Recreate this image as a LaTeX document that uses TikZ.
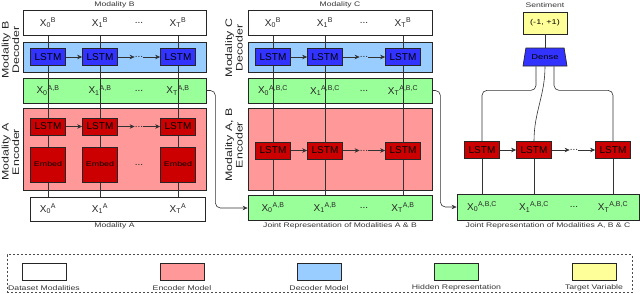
\documentclass[tikz,border=0pt]{standalone}
\usepackage{fontspec}
\setmainfont{Liberation Sans}
\newfontfamily\widefont[FakeStretch=1.3]{Liberation Sans}
\usetikzlibrary{calc}
\usetikzlibrary{positioning}
\usetikzlibrary{arrows.meta}
\usetikzlibrary{shapes.geometric}

\definecolor{encred}{HTML}{FF9999}
\definecolor{decblue}{HTML}{99CCFF}
\definecolor{hidgreen}{HTML}{99FF99}
\definecolor{tgtyellow}{HTML}{FFFF99}
\definecolor{lstmred}{HTML}{CC0000}
\definecolor{lstmblue}{HTML}{3333FF}

\newcommand{\xv}[2]{X\textsubscript{#1}\textsuperscript{#2}}

\tikzset{
    band/.style={draw=black!85, line width=0.8pt, minimum width=183pt, minimum height=25pt, inner sep=0pt},
    cell/.style={draw=black!85, line width=0.7pt, minimum width=35pt, minimum height=17pt, inner sep=0pt, font=\fontsize{10}{12}\selectfont},
    embcell/.style={cell, fill=lstmred, minimum height=35pt, font=\widefont\fontsize{6.8}{8}\selectfont},
    lab/.style={inner sep=0pt, text=black!85, font=\fontsize{10}{12}\selectfont},
    caption/.style={inner sep=0pt, text=black!80, font=\widefont\fontsize{6.6}{8}\selectfont},
    side/.style={inner sep=0pt, text=black!85, align=center, rotate=90, font=\widefont\fontsize{9.5}{10.5}\selectfont},
    link/.style={draw=black!80, line width=0.6pt},
    arr/.style={link, -{Stealth[length=5pt,width=4.5pt]}},
    key/.style={draw=black!85, line width=0.8pt, minimum width=44pt, minimum height=17pt, inner sep=0pt}
}

\begin{document}
\begin{tikzpicture}[x=1pt, y=-1pt]
    \useasboundingbox (0,0) rectangle (640,293);

    % Columns
    \coordinate (a0) at (48,0);
    \coordinate (a1) at (100,0);
    \coordinate (ad) at (139,0);
    \coordinate (a2) at (178,0);
    \coordinate (b0) at (273,0);
    \coordinate (b1) at (325,0);
    \coordinate (bd) at (364,0);
    \coordinate (b2) at (403,0);
    \coordinate (c0) at (482,0);
    \coordinate (c1) at (534,0);
    \coordinate (cd) at (574,0);
    \coordinate (c2) at (613,0);

    % Left stack: modality B decoder over modality A encoder
    \node[caption] (capB) at (114.5,5) {Modality B};
    \node[band] (topB) at (114.5,23) {};
    \node[band, fill=decblue, minimum height=30pt] (decB) at (114.5,57) {};
    \node[band, fill=hidgreen] (hidAB) at (114.5,90.5) {};
    \node[band, fill=encred, minimum height=82pt] (encA) at (114.5,149) {};
    \node[band, minimum width=175pt, minimum height=24pt] (botA) at (117.5,209) {};
    \node[caption] (capA) at (114.5,226) {Modality A};
    \node[side] (sideB) at (10.5,50) {Modality B\\Decoder};
    \node[side] (sideA) at (10.5,152) {Modality A\\Encoder};

    \draw[link] (topB.south -| a0) -- (botA.north -| a0);
    \draw[link] (topB.south -| a1) -- (botA.north -| a1);
    \draw[link] (topB.south -| a2) -- (botA.north -| a2);

    \node[lab] (xB0) at (a0 |- topB) {\xv{0}{B}};
    \node[lab] (xB1) at (a1 |- topB) {\xv{1}{B}};
    \node[lab] (xBd) at (ad |- topB) {...};
    \node[lab] (xBT) at (a2 |- topB) {\xv{T}{B}};

    \node[cell, fill=lstmblue] (lstmB0) at (a0 |- decB) {LSTM};
    \node[cell, fill=lstmblue] (lstmB1) at (a1 |- decB) {LSTM};
    \node[lab] (lstmBd) at (ad |- decB) {...};
    \node[cell, fill=lstmblue] (lstmB2) at (a2 |- decB) {LSTM};
    \draw[arr] (lstmB0) -- (lstmB1);
    \draw[arr] (lstmB1) -- (lstmBd);
    \draw[arr] (lstmBd) -- (lstmB2);

    \node[lab] (hAB0) at (a0 |- hidAB) {\xv{0}{A,B}};
    \node[lab] (hAB1) at (a1 |- hidAB) {\xv{1}{A,B}};
    \node[lab] (hABd) at (ad |- hidAB) {...};
    \node[lab] (hABT) at (a2 |- hidAB) {\xv{T}{A,B}};

    \node[cell, fill=lstmred] (lstmA0) at (a0 |- 0,126.5) {LSTM};
    \node[cell, fill=lstmred] (lstmA1) at (a1 |- 0,126.5) {LSTM};
    \node[lab] (lstmAd) at (ad |- 0,126.5) {...};
    \node[cell, fill=lstmred] (lstmA2) at (a2 |- 0,126.5) {LSTM};
    \draw[arr] (lstmA0) -- (lstmA1);
    \draw[arr] (lstmA1) -- (lstmAd);
    \draw[arr] (lstmAd) -- (lstmA2);

    \node[embcell] (embA0) at (a0 |- 0,164.5) {Embed};
    \node[embcell] (embA1) at (a1 |- 0,164.5) {Embed};
    \node[lab] (embAd) at (ad |- 0,164.5) {...};
    \node[embcell] (embA2) at (a2 |- 0,164.5) {Embed};

    \node[lab] (xA0) at (a0 |- botA) {\xv{0}{A}};
    \node[lab] (xA1) at (a1 |- botA) {\xv{1}{A}};
    \node[lab] (xAT) at (a2 |- botA) {\xv{T}{A}};

    % Middle stack: modality C decoder over joint A, B encoder
    \node[caption] (capC) at (340,5) {Modality C};
    \node[band, minimum width=184pt] (topC) at (340,23) {};
    \node[band, fill=decblue, minimum width=184pt, minimum height=30pt] (decC) at (340,57) {};
    \node[band, fill=hidgreen, minimum width=184pt] (hidABC) at (340,90.5) {};
    \node[band, fill=encred, minimum width=184pt, minimum height=82pt] (encAB) at (340,149) {};
    \node[band, fill=hidgreen, minimum width=184pt] (jAB) at (340,208) {};
    \node[caption] (capAB) at (340,226) {Joint Representation of Modalities A \& B};
    \node[side] (sideC) at (234,48) {Modality C\\Decoder};
    \node[side] (sideAB) at (234,145) {Modality A, B\\Encoder};

    \draw[link] (topC.south -| b0) -- (jAB.north -| b0);
    \draw[link] (topC.south -| b1) -- (jAB.north -| b1);
    \draw[link] (topC.south -| b2) -- (jAB.north -| b2);

    \node[lab] (xC0) at (b0 |- topC) {\xv{0}{B}};
    \node[lab] (xC1) at (b1 |- topC) {\xv{1}{B}};
    \node[lab] (xCd) at (bd |- topC) {...};
    \node[lab] (xCT) at (b2 |- topC) {\xv{T}{B}};

    \node[cell, fill=lstmblue] (lstmC0) at (b0 |- decC) {LSTM};
    \node[cell, fill=lstmblue] (lstmC1) at (b1 |- decC) {LSTM};
    \node[lab] (lstmCd) at (bd |- decC) {...};
    \node[cell, fill=lstmblue] (lstmC2) at (b2 |- decC) {LSTM};
    \draw[arr] (lstmC0) -- (lstmC1);
    \draw[arr] (lstmC1) -- (lstmCd);
    \draw[arr] (lstmCd) -- (lstmC2);

    \node[lab] (hABC0) at (b0 |- hidABC) {\xv{0}{A,B,C}};
    \node[lab] (hABC1) at (b1 |- hidABC) {\xv{1}{A,B,C}};
    \node[lab] (hABCd) at (bd |- hidABC) {...};
    \node[lab] (hABCT) at (b2 |- hidABC) {\xv{T}{A,B,C}};

    \node[cell, fill=lstmred] (lstmAB0) at (b0 |- 0,150.5) {LSTM};
    \node[cell, fill=lstmred] (lstmAB1) at (b1 |- 0,150.5) {LSTM};
    \node[lab] (lstmABd) at (bd |- 0,150.5) {...};
    \node[cell, fill=lstmred] (lstmAB2) at (b2 |- 0,150.5) {LSTM};
    \draw[arr] (lstmAB0) -- (lstmAB1);
    \draw[arr] (lstmAB1) -- (lstmABd);
    \draw[arr] (lstmABd) -- (lstmAB2);

    \node[lab] (jAB0) at (b0 |- jAB) {\xv{0}{A,B}};
    \node[lab] (jAB1) at (b1 |- jAB) {\xv{1}{A,B}};
    \node[lab] (jABd) at (bd |- jAB) {...};
    \node[lab] (jABT) at (b2 |- jAB) {\xv{T}{A,B}};

    \draw[arr, rounded corners=5pt] (hidAB.east) -- ++(9,0) |- (jAB.west);

    % Right: sentiment from joint A, B, C
    \node[caption] (capS) at (545,5) {Sentiment};
    \node[band, fill=tgtyellow, minimum width=44pt, minimum height=22pt, font=\widefont\fontsize{7}{8}\selectfont] (sent) at (545,23) {(-1, +1)};
    \node[trapezium, trapezium stretches=true, trapezium left angle=68, trapezium right angle=68,
          draw=black!85, line width=0.7pt, fill=lstmblue, minimum width=44pt, minimum height=18pt,
          inner sep=0pt, font=\widefont\fontsize{7.2}{8}\selectfont] (dense) at (545,57) {Dense};
    \draw[link] (sent) -- (dense);

    \node[band, fill=hidgreen, minimum width=182pt, minimum height=26pt] (jABC) at (548,207) {};
    \node[caption] (capABC) at (548,226) {Joint Representation of Modalities A, B \& C};

    \node[cell, fill=lstmred] (rl0) at (c0 |- 0,150) {LSTM};
    \node[cell, fill=lstmred] (rl1) at (c1 |- 0,150) {LSTM};
    \node[lab] (rld) at (cd |- 0,150) {...};
    \node[cell, fill=lstmred] (rl2) at (c2 |- 0,150) {LSTM};
    \draw[arr] (rl0) -- (rl1);
    \draw[arr] (rl1) -- (rld);
    \draw[arr] (rld) -- (rl2);

    \draw[link] (rl0.south) -- (jABC.north -| rl0);
    \draw[link] (rl1.south) -- (jABC.north -| rl1);
    \draw[link] (rl2.south) -- (jABC.north -| rl2);

    \draw[link, rounded corners=5pt] ($(dense.south)+(-9,0)$) -- ++(0,24) -| (rl0.north);
    \draw[link] (dense.south) to[out=-90, in=90] (rl1.north);
    \draw[link, rounded corners=5pt] ($(dense.south)+(9,0)$) -- ++(0,24) -| (rl2.north);

    \node[lab] (jABC0) at (c0 |- jABC) {\xv{0}{A,B,C}};
    \node[lab] (jABC1) at (c1 |- jABC) {\xv{1}{A,B,C}};
    \node[lab] (jABCd) at (cd |- jABC) {...};
    \node[lab] (jABCT) at (c2 |- jABC) {\xv{T}{A,B,C}};

    \draw[arr, rounded corners=5pt] (hidABC.east) -- ++(8,0) |- (jABC.west);

    % Legend
    \node[draw=black!70, line width=0.6pt, dash pattern=on 2pt off 2pt, minimum width=625pt, minimum height=38pt, inner sep=0pt] (legend) at (319.5,273.5) {};
    \node[key] (kData) at (44,271.5) {};
    \node[key, fill=encred] (kEnc) at (182,271.5) {};
    \node[key, fill=decblue] (kDec) at (319,271.5) {};
    \node[key, fill=hidgreen] (kHid) at (456.5,271.5) {};
    \node[key, fill=tgtyellow] (kTgt) at (594,271.5) {};
    \node[caption, font=\widefont\fontsize{6.7}{8}\selectfont] (tData) at (44,288) {Dataset Modalities};
    \node[caption, font=\widefont\fontsize{6.7}{8}\selectfont] (tEnc) at (182,288) {Encoder Model};
    \node[caption, font=\widefont\fontsize{6.7}{8}\selectfont] (tDec) at (319,288) {Decoder Model};
    \node[caption, font=\widefont\fontsize{6.7}{8}\selectfont] (tHid) at (456.5,288) {Hidden Representation};
    \node[caption, font=\widefont\fontsize{6.7}{8}\selectfont] (tTgt) at (594,288) {Target Variable};
\end{tikzpicture}
\end{document}
